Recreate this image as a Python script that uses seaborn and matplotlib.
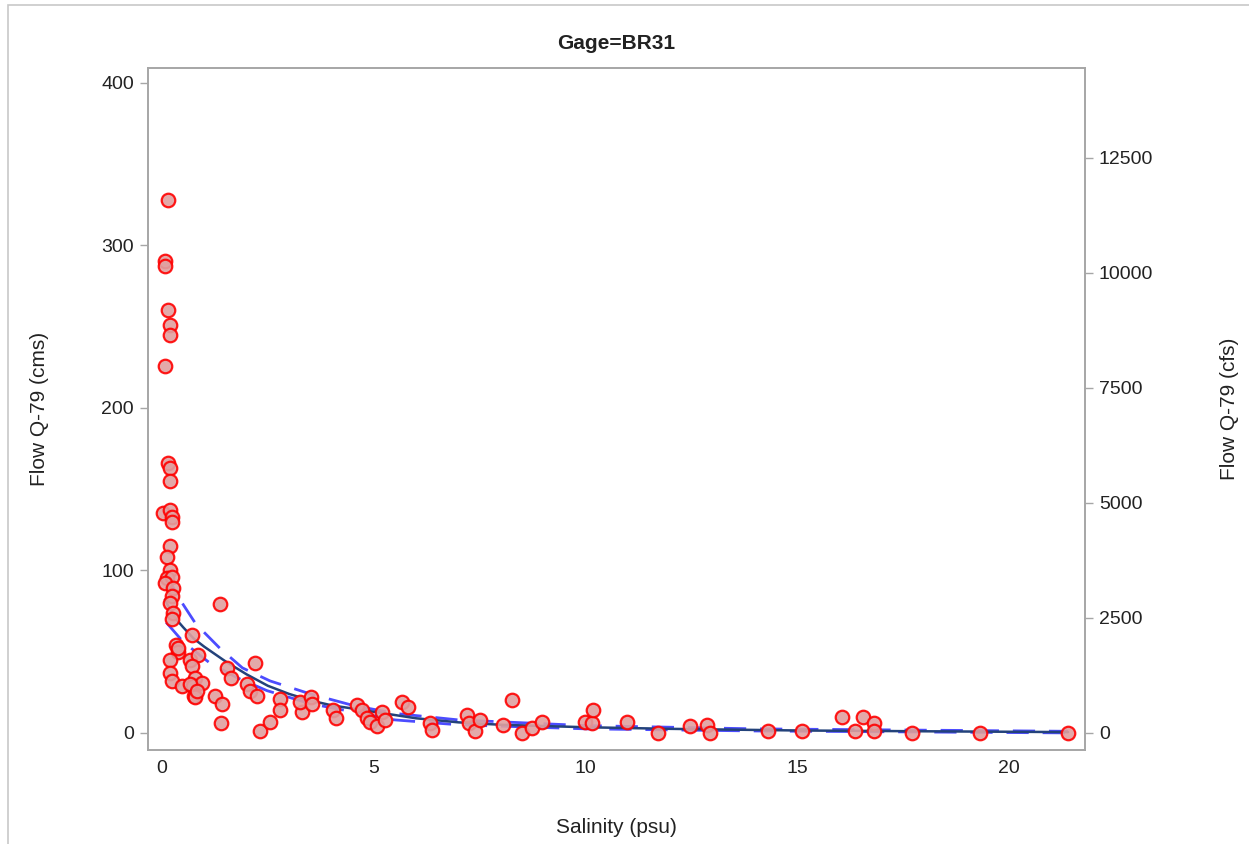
import matplotlib
matplotlib.use("Agg")
import matplotlib.pyplot as plt
import seaborn as sns
import pandas as pd
from matplotlib.patches import Rectangle

# ---- data ----
salinity = [0.14, 0.07, 0.07, 0.14, 0.19, 0.19, 0.07, 0.14, 0.19, 0.19,
            0.02, 0.19, 0.24, 0.24, 0.19, 0.12, 0.19, 0.12, 0.24, 0.07,
            0.26, 0.24, 0.19, 0.26, 0.24, 0.33, 0.38, 0.19, 0.38, 0.19,
            0.24, 0.47, 0.71, 0.66, 0.85, 0.71, 0.78, 0.73, 0.75, 0.95,
            0.78, 0.66, 0.82, 1.25, 1.42, 1.4, 1.36, 1.54, 1.63, 2.0,
            2.08, 2.19, 2.24, 2.31, 2.55, 2.79, 2.79, 3.3, 3.26, 3.52,
            3.55, 4.03, 4.1, 4.6, 4.72, 4.84, 4.91, 5.08, 5.2, 5.27,
            5.67, 5.81, 6.33, 6.38, 7.2, 7.24, 7.39, 7.51, 8.05, 8.26,
            8.5, 8.74, 8.97, 9.99, 10.15, 10.18, 10.98, 11.71, 12.47, 12.87,
            12.94, 14.31, 15.11, 16.05, 16.36, 16.55, 16.81, 16.81, 17.71, 19.32,
            21.4]
flow_cms = [328, 290, 287, 260, 251, 245, 226, 166, 163, 155,
            135, 137, 133, 130, 115, 108, 100, 95, 96, 92,
            89, 84, 80, 74, 70, 54, 50, 45, 52, 37,
            32, 29, 60, 45, 48, 41, 34, 29, 23, 31,
            22, 30, 26, 23, 18, 6, 79, 40, 34, 30,
            26, 43, 23, 1, 7, 21, 14, 13, 19, 22,
            18, 14, 9, 17, 14, 9, 7, 4, 13, 8,
            19, 16, 6, 2, 11, 6, 1, 8, 5, 20,
            0, 3, 7, 7, 6, 14, 7, 0, 4, 5,
            0, 1, 1, 10, 1, 10, 6, 1, 0, 0,
            0]

fit_x = [0.07, 0.15, 0.3, 0.5, 0.75, 1.0, 1.5, 2.0, 2.5, 3.0,
         3.5, 4.0, 5.0, 6.0, 7.0, 8.0, 10.0, 12.0, 15.0, 18.0, 21.4]
fit_y = [82, 78, 71, 65, 58, 53, 44, 36, 29, 24,
         20, 17, 13, 9, 6.5, 5, 3.5, 2.5, 1.5, 1.0, 0.5]

upper_x = [0.07, 0.4, 0.8, 1.37, 1.9, 2.55, 3.5, 4.5, 5.5, 7.0, 10.0, 14.0, 21.4]
upper_y = [99, 83, 67, 52, 40, 32, 24, 17, 12, 8, 4.5, 2.5, 1.0]

lower_x = [0.1, 0.5, 1.13, 1.77, 2.48, 3.5, 4.5, 5.5, 7.0, 10.0, 14.0, 21.4]
lower_y = [68, 56, 43, 34, 26, 18, 13, 8, 5, 2.5, 1.2, 0.0]

left_ticks = [0, 100, 200, 300, 400]
right_ticks = [0, 2500, 5000, 7500, 10000, 12500]
x_ticks = [0, 5, 10, 15, 20]
CMS_TO_CFS = 35.3147

pts = pd.DataFrame({"Salinity": salinity, "Flow": flow_cms})
fit = pd.DataFrame({"x": fit_x, "y": fit_y})
up = pd.DataFrame({"x": upper_x, "y": upper_y})
lo = pd.DataFrame({"x": lower_x, "y": lower_y})

sns.set_theme(style="white")
plt.rcParams["font.family"] = ["Liberation Sans", "DejaVu Sans"]

fig = plt.figure(figsize=(12.49, 8.44), dpi=100)
ax = fig.add_axes([0.1185, 0.1114, 0.7502, 0.808])

grey = "#A6A6A6"
txt = "#222222"

sns.lineplot(data=up, x="x", y="y", ax=ax, color="#0000FF", lw=2.0,
             alpha=0.7, zorder=3).lines[-1].set_dashes([8, 5])
sns.lineplot(data=lo, x="x", y="y", ax=ax, color="#0000FF", lw=2.0,
             alpha=0.7, zorder=3).lines[-1].set_dashes([8, 5])
sns.lineplot(data=fit, x="x", y="y", ax=ax, color="#23427A", lw=1.8, zorder=4)

sns.scatterplot(data=pts, x="Salinity", y="Flow", ax=ax, s=95,
                facecolor="#E0A0A0", edgecolor="#FF0000", linewidth=1.6,
                alpha=0.9, zorder=5)

ax.set_xlim(-0.33, 21.8)
ax.set_ylim(-10.5, 409)
ax.set_xticks(x_ticks)
ax.set_yticks(left_ticks)
ax.set_xlabel("Salinity (psu)", fontsize=15, color=txt, labelpad=30)
ax.set_ylabel("Flow Q-79 (cms)", fontsize=15, color=txt, labelpad=38)
ax.set_title("Gage=BR31", fontsize=15, fontweight="bold", color=txt, pad=14)

for s in ax.spines.values():
    s.set_color(grey)
    s.set_linewidth(1.2)
ax.tick_params(axis="both", which="major", direction="out", length=6,
               width=1, color=grey, labelsize=14, labelcolor=txt)
ax.tick_params(axis="x", pad=1)
ax.tick_params(axis="y", pad=4)

ax2 = ax.twinx()
ax2.set_ylim(-10.5 * CMS_TO_CFS, 409 * CMS_TO_CFS)
ax2.set_yticks(right_ticks)
ax2.set_ylabel("Flow Q-79 (cfs)", fontsize=15, color=txt, labelpad=48)
for s in ax2.spines.values():
    s.set_color(grey)
    s.set_linewidth(1.2)
ax2.tick_params(axis="y", direction="out", length=6, width=1, color=grey,
                labelsize=14, labelcolor=txt, pad=4)
ax2.grid(False)

# outer frame of the graph
fig.patches.append(Rectangle((8 / 1249, -0.01), 1.02, 1 - 5 / 844 + 0.01,
                             transform=fig.transFigure, fill=False,
                             edgecolor="#C8C8C8", linewidth=1.2))

fig.savefig("out.png", dpi=100)
